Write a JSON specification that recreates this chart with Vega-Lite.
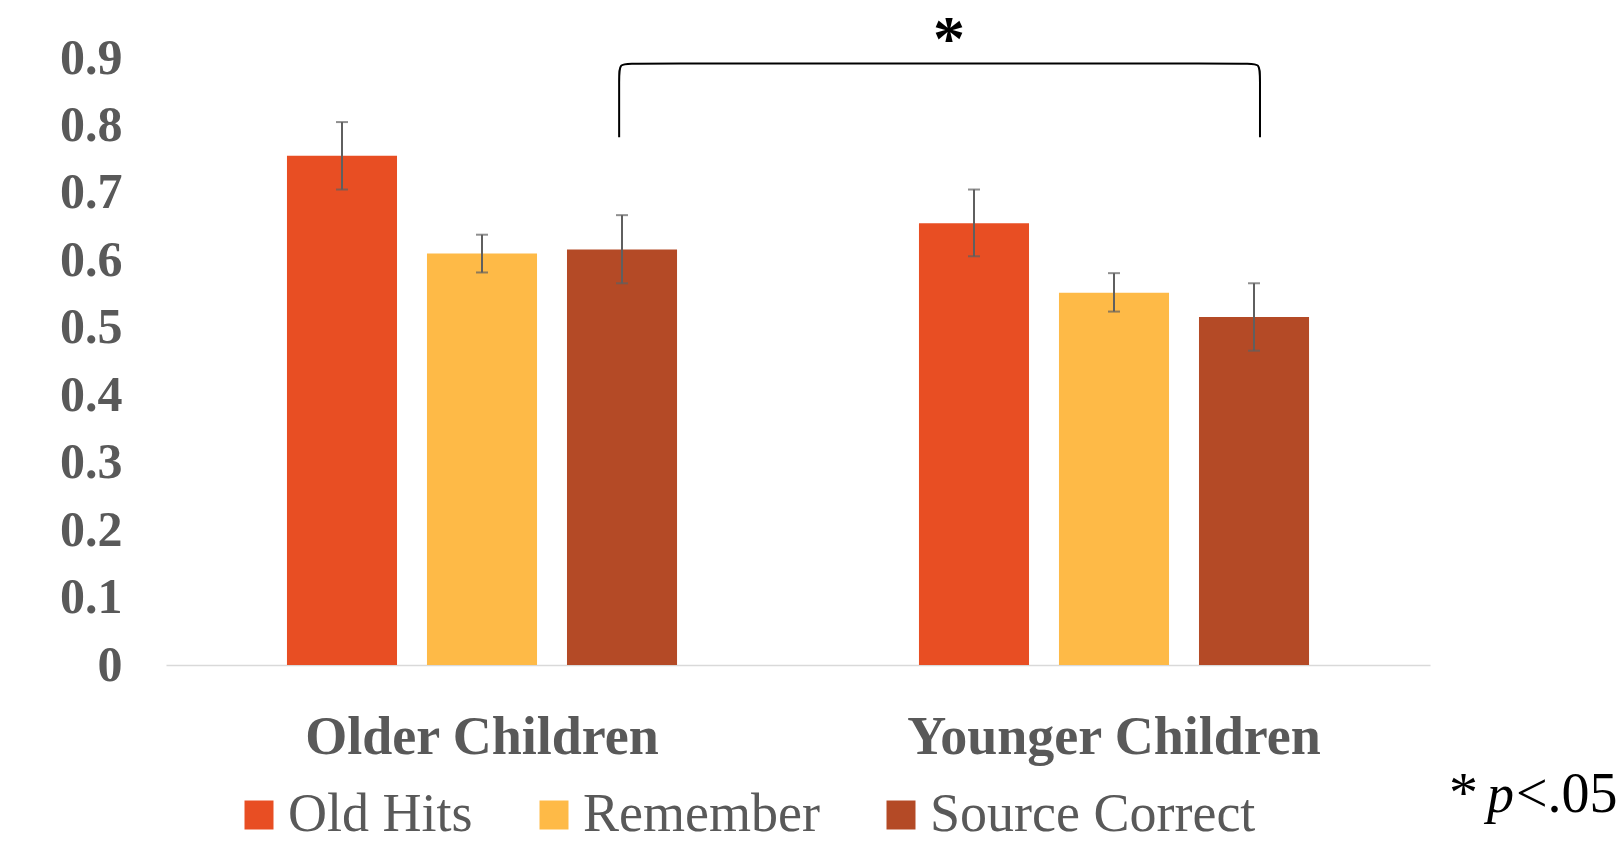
{
  "$schema": "https://vega.github.io/schema/vega-lite/v6.json",
  "autosize": {"type": "none"},
  "padding": {"left": 166, "top": 58, "right": 192, "bottom": 178},
  "width": 1264,
  "height": 607,
  "background": "white",
  "config": {"view": {"stroke": null}},
  "datasets": {
    "bars": [
      {"group": "Older Children", "series": "Old Hits", "value": 0.755, "lo": 0.705, "hi": 0.805},
      {"group": "Older Children", "series": "Remember", "value": 0.61, "lo": 0.582, "hi": 0.638},
      {"group": "Older Children", "series": "Source Correct", "value": 0.616, "lo": 0.566, "hi": 0.667},
      {"group": "Younger Children", "series": "Old Hits", "value": 0.655, "lo": 0.606, "hi": 0.705},
      {"group": "Younger Children", "series": "Remember", "value": 0.552, "lo": 0.524, "hi": 0.581},
      {"group": "Younger Children", "series": "Source Correct", "value": 0.516, "lo": 0.466, "hi": 0.566}
    ],
    "bracket": [
      {"i": 0, "bx": 0.717, "by": 0.7825},
      {"i": 1, "bx": 0.717, "by": 0.8},
      {"i": 2, "bx": 0.717, "by": 0.872},
      {"i": 3, "bx": 0.717, "by": 0.892},
      {"i": 4, "bx": 0.737, "by": 0.892},
      {"i": 5, "bx": 1.224, "by": 0.892},
      {"i": 6, "bx": 1.711, "by": 0.892},
      {"i": 7, "bx": 1.731, "by": 0.892},
      {"i": 8, "bx": 1.731, "by": 0.872},
      {"i": 9, "bx": 1.731, "by": 0.8},
      {"i": 10, "bx": 1.731, "by": 0.7825}
    ]
  },
  "layer": [
    {
      "data": {"name": "bars"},
      "encoding": {
        "x": {
          "field": "group",
          "type": "nominal",
          "sort": ["Older Children", "Younger Children"],
          "scale": {"paddingInner": 0, "paddingOuter": 0},
          "axis": {
            "title": null,
            "labelAngle": 0,
            "ticks": false,
            "domainColor": "#D9D9D9",
            "domainWidth": 1.5,
            "labelFont": "Liberation Serif",
            "labelFontWeight": "bold",
            "labelFontSize": 54,
            "labelColor": "#595959",
            "labelBaseline": "alphabetic",
            "labelPadding": 88,
            "labelLimit": 1000
          }
        },
        "xOffset": {
          "field": "series",
          "type": "nominal",
          "sort": ["Old Hits", "Remember", "Source Correct"],
          "scale": {"paddingInner": 0.214, "paddingOuter": 0.864}
        }
      },
      "layer": [
        {
          "mark": {"type": "bar"},
          "encoding": {
            "y": {
              "field": "value",
              "type": "quantitative",
              "scale": {"domain": [0, 0.9], "nice": false, "zero": true},
              "axis": {
                "title": null,
                "values": [0, 0.1, 0.2, 0.3, 0.4, 0.5, 0.6, 0.7, 0.8, 0.9],
                "format": "~g",
                "grid": false,
                "ticks": false,
                "domain": false,
                "labelFont": "Liberation Serif",
                "labelFontWeight": "bold",
                "labelFontSize": 50,
                "labelColor": "#595959",
                "labelPadding": 44
              }
            },
            "color": {
              "field": "series",
              "type": "nominal",
              "sort": ["Old Hits", "Remember", "Source Correct"],
              "scale": {
                "domain": ["Old Hits", "Remember", "Source Correct"],
                "range": ["#E84E23", "#FEBA47", "#B44A26"]
              },
              "legend": {
                "title": null,
                "orient": "none",
                "direction": "horizontal",
                "legendX": 66,
                "legendY": 730,
                "padding": 0,
                "symbolType": "square",
                "symbolSize": 841,
                "symbolStrokeWidth": 0,
                "symbolOpacity": 1,
                "labelFont": "Liberation Serif",
                "labelFontSize": 54,
                "labelColor": "#595959",
                "labelOffset": 2,
                "labelLimit": 600,
                "columnPadding": 54
              }
            }
          }
        },
        {
          "mark": {"type": "rule", "color": "#5F5F5F", "strokeWidth": 2},
          "encoding": {
            "y": {"field": "lo", "type": "quantitative", "scale": {"domain": [0, 0.9], "nice": false}},
            "y2": {"field": "hi"}
          }
        },
        {
          "mark": {"type": "tick", "color": "#5F5F5F", "size": 12, "thickness": 2, "orient": "horizontal"},
          "encoding": {
            "y": {"field": "lo", "type": "quantitative", "scale": {"domain": [0, 0.9], "nice": false}}
          }
        },
        {
          "mark": {"type": "tick", "color": "#5F5F5F", "size": 12, "thickness": 2, "orient": "horizontal"},
          "encoding": {
            "y": {"field": "hi", "type": "quantitative", "scale": {"domain": [0, 0.9], "nice": false}}
          }
        }
      ]
    },
    {
      "data": {"name": "bracket"},
      "mark": {"type": "line", "color": "black", "strokeWidth": 2, "interpolate": "basis", "clip": false},
      "encoding": {
        "x": {"field": "bx", "type": "quantitative", "scale": {"domain": [0, 2], "nice": false, "zero": true}, "axis": null},
        "y": {"field": "by", "type": "quantitative", "scale": {"domain": [0, 0.9], "nice": false}, "axis": null},
        "order": {"field": "i", "type": "quantitative"}
      }
    },
    {
      "data": {"values": [{"tx": 1.239, "ty": 0.897, "label": "*"}]},
      "mark": {"type": "text", "font": "Liberation Serif", "fontWeight": "bold", "fontSize": 64, "color": "black", "align": "center", "baseline": "alphabetic"},
      "encoding": {
        "x": {"field": "tx", "type": "quantitative", "scale": {"domain": [0, 2], "nice": false, "zero": true}, "axis": null},
        "y": {"field": "ty", "type": "quantitative", "scale": {"domain": [0, 0.9], "nice": false}, "axis": null},
        "text": {"field": "label"}
      }
    },
    {
      "data": {"values": [{"tx": 2.03, "ty": -0.218, "label": "*"}]},
      "mark": {"type": "text", "font": "Liberation Serif", "fontSize": 58, "color": "black", "align": "left", "baseline": "alphabetic"},
      "encoding": {
        "x": {"field": "tx", "type": "quantitative", "scale": {"domain": [0, 2], "nice": false, "zero": true}, "axis": null},
        "y": {"field": "ty", "type": "quantitative", "scale": {"domain": [0, 0.9], "nice": false}, "axis": null},
        "text": {"field": "label"}
      }
    },
    {
      "data": {"values": [{"tx": 2.09, "ty": -0.218, "label": "p"}]},
      "mark": {"type": "text", "font": "Liberation Serif", "fontStyle": "italic", "fontSize": 54, "color": "black", "align": "left", "baseline": "alphabetic"},
      "encoding": {
        "x": {"field": "tx", "type": "quantitative", "scale": {"domain": [0, 2], "nice": false, "zero": true}, "axis": null},
        "y": {"field": "ty", "type": "quantitative", "scale": {"domain": [0, 0.9], "nice": false}, "axis": null},
        "text": {"field": "label"}
      }
    },
    {
      "data": {"values": [{"tx": 2.136, "ty": -0.218, "label": "<.05"}]},
      "mark": {"type": "text", "font": "Liberation Serif", "fontSize": 56, "color": "black", "align": "left", "baseline": "alphabetic"},
      "encoding": {
        "x": {"field": "tx", "type": "quantitative", "scale": {"domain": [0, 2], "nice": false, "zero": true}, "axis": null},
        "y": {"field": "ty", "type": "quantitative", "scale": {"domain": [0, 0.9], "nice": false}, "axis": null},
        "text": {"field": "label"}
      }
    }
  ],
  "resolve": {"scale": {"x": "independent", "y": "independent"}}
}
